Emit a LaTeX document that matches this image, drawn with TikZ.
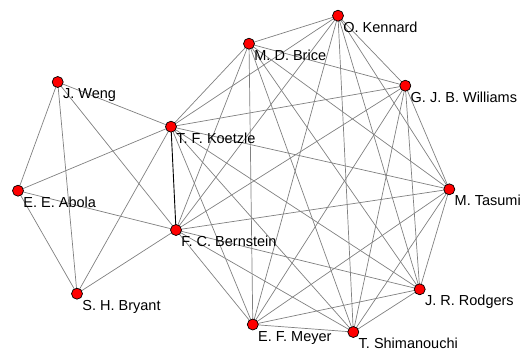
\documentclass[tikz,border=0pt]{standalone}
\usepackage{fontspec}
\setmainfont{Liberation Sans}
\begin{document}
\begin{tikzpicture}[x=1pt,y=-1pt,
  author/.style={circle,draw=black,fill=red,line width=0.7pt,minimum size=11pt,inner sep=0pt},
  tie/.style={draw=black!50,line width=0.7pt},
  strongtie/.style={draw=black,line width=0.9pt},
  authorname/.style={anchor=base west,inner sep=0pt,font=\fontsize{14.5}{16}\selectfont}]
\useasboundingbox (0,0) rectangle (529,356);

% author positions
\coordinate (pWeng) at (57.7,82);
\coordinate (pKoetzle) at (171,126.7);
\coordinate (pAbola) at (18,190.7);
\coordinate (pBernstein) at (176,230);
\coordinate (pBryant) at (77,293.7);
\coordinate (pBrice) at (249,43.7);
\coordinate (pKennard) at (338,15.7);
\coordinate (pWilliams) at (405.3,85.7);
\coordinate (pTasumi) at (449.3,189.3);
\coordinate (pRodgers) at (419.7,289.3);
\coordinate (pMeyer) at (252.8,324.5);
\coordinate (pShimanouchi) at (353.3,332);

% co-authorship ties
\foreach \a/\b in {Weng/Koetzle,Weng/Abola,Weng/Bryant,Weng/Bernstein,
  Abola/Koetzle,Abola/Bernstein,Abola/Bryant,Bryant/Koetzle,Bryant/Bernstein}
  \draw[tie] (p\a) -- (p\b);
\foreach \a/\b in {
  Koetzle/Brice,Koetzle/Kennard,Koetzle/Williams,Koetzle/Tasumi,Koetzle/Rodgers,Koetzle/Meyer,Koetzle/Shimanouchi,
  Bernstein/Brice,Bernstein/Kennard,Bernstein/Williams,Bernstein/Tasumi,Bernstein/Rodgers,Bernstein/Meyer,Bernstein/Shimanouchi,
  Brice/Kennard,Brice/Williams,Brice/Tasumi,Brice/Rodgers,Brice/Meyer,Brice/Shimanouchi,
  Kennard/Williams,Kennard/Tasumi,Kennard/Rodgers,Kennard/Meyer,Kennard/Shimanouchi,
  Williams/Tasumi,Williams/Rodgers,Williams/Meyer,Williams/Shimanouchi,
  Tasumi/Rodgers,Tasumi/Meyer,Tasumi/Shimanouchi,
  Rodgers/Meyer,Rodgers/Shimanouchi,
  Meyer/Shimanouchi}
  \draw[tie] (p\a) -- (p\b);
\draw[strongtie] (pKoetzle) -- (pBernstein);

% author nodes and names
\foreach \n/\t in {Weng/J. Weng,Koetzle/T. F. Koetzle,Abola/E. E. Abola,Bernstein/F. C. Bernstein,
  Bryant/S. H. Bryant,Brice/M. D. Brice,Kennard/O. Kennard,Williams/G. J. B. Williams,
  Tasumi/M. Tasumi,Rodgers/J. R. Rodgers,Meyer/E. F. Meyer,Shimanouchi/T. Shimanouchi}
{
  \node[author] (\n) at (p\n) {};
  \node[authorname] (l\n) at ([shift={(5.2,16.5)}]p\n) {\t};
}
\end{tikzpicture}
\end{document}
